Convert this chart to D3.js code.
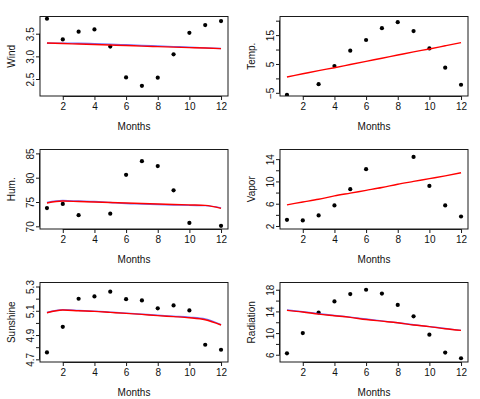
<!DOCTYPE html>
<html>
<head>
<meta charset="utf-8">
<script src="https://cdn.jsdelivr.net/npm/d3@7"></script>
<style>
 body { margin: 0; background: #fff; }
 text { font-family: "Liberation Sans", Arial, sans-serif; }
</style>
</head>
<body>
<div id="chart"></div>
<script>
// data
const months = [1, 2, 3, 4, 5, 6, 7, 8, 9, 10, 11, 12];
const monthTicks = [2, 4, 6, 8, 10, 12];

const wind = [3.83, 3.375, 3.544, 3.594, 3.215, 2.535, 2.35, 2.53, 3.046, 3.52, 3.69, 3.78];
const windRed = [3.294, 3.283, 3.272, 3.261, 3.25, 3.239, 3.227, 3.216, 3.205, 3.194, 3.183, 3.171];
const windBlue = [3.29, 3.292, 3.29, 3.282, 3.27, 3.255, 3.24, 3.228, 3.215, 3.202, 3.188, 3.172];
const windDomain = [2.125, 3.88];
const windTicks = [2.5, 3.0, 3.5];
const windLabels = ["2.5", "3.0", "3.5"];

const temp = [-5.7, null, -2.0, 4.3, 9.6, 13.3, 17.4, 19.5, 16.4, 10.4, 3.7, -2.2];
const tempRed = [0.5, 1.6, 2.7, 3.7, 4.8, 5.9, 7.0, 8.1, 9.2, 10.2, 11.3, 12.4];
const tempDomain = [-6.1, 21.45];
const tempTicks = [-5, 0, 5, 10, 15, 20];
const tempLabels = ["\u22125", "", "5", "", "15", ""];

const hum = [73.75, 74.6, 72.3, null, 72.6, 80.6, 83.4, 82.4, 77.4, 70.7, null, 70.1];
const humRed = [74.8, 75.2, 75.1, 75.0, 74.9, 74.8, 74.7, 74.6, 74.5, 74.4, 74.3, 73.7];
const humBlue = [74.9, 75.3, 75.2, 75.1, 74.9, 74.7, 74.6, 74.5, 74.4, 74.3, 74.25, 73.8];
const humDomain = [69.45, 85.8];
const humTicks = [70, 75, 80, 85];
const humLabels = ["70", "75", "80", "85"];

const vapor = [3.1, 3.0, 3.9, 5.7, 8.6, 12.2, null, null, 14.4, 9.2, 5.7, 3.7];
const vaporRed = [5.8, 6.3, 6.8, 7.4, 7.9, 8.4, 8.9, 9.5, 10.0, 10.5, 11.0, 11.55];
const vaporDomain = [1.46, 15.73];
const vaporTicks = [2, 4, 6, 8, 10, 12, 14];
const vaporLabels = ["2", "", "6", "", "10", "", "14"];

const sunshine = [4.757, 4.968, 5.199, 5.218, 5.257, 5.196, 5.185, 5.12, 5.144, 5.103, 4.82, 4.779];
const sunRed = [5.084, 5.106, 5.1, 5.095, 5.087, 5.079, 5.07, 5.06, 5.052, 5.043, 5.026, 4.983];
const sunBlue = [5.086, 5.108, 5.103, 5.097, 5.089, 5.081, 5.072, 5.063, 5.055, 5.047, 5.033, 4.985];
const sunDomain = [4.678, 5.333];
const sunTicks = [4.7, 4.8, 4.9, 5.0, 5.1, 5.2, 5.3];
const sunLabels = ["4.7", "", "4.9", "", "5.1", "", "5.3"];

const radiation = [6.26, 10.0, 13.8, 15.85, 17.2, 18.0, 17.3, 15.2, 13.1, 9.7, 6.4, 5.35];
const radRed = [14.2, 13.9, 13.5, 13.2, 12.9, 12.5, 12.2, 11.9, 11.5, 11.2, 10.8, 10.5];
const radBlue = [14.25, 13.95, 13.6, 13.25, 12.95, 12.6, 12.25, 11.9, 11.55, 11.2, 10.85, 10.5];
const radDomain = [4.66, 19.34];
const radTicks = [6, 8, 10, 12, 14, 16, 18];
const radLabels = ["6", "", "10", "", "14", "", "18"];

const panels = [
  {name: "Wind", y: wind, red: windRed, blue: windBlue, dom: windDomain, ticks: windTicks, labels: windLabels},
  {name: "Temp.", y: temp, red: tempRed, blue: null, dom: tempDomain, ticks: tempTicks, labels: tempLabels},
  {name: "Hum.", y: hum, red: humRed, blue: humBlue, dom: humDomain, ticks: humTicks, labels: humLabels},
  {name: "Vapor", y: vapor, red: vaporRed, blue: null, dom: vaporDomain, ticks: vaporTicks, labels: vaporLabels},
  {name: "Sunshine", y: sunshine, red: sunRed, blue: sunBlue, dom: sunDomain, ticks: sunTicks, labels: sunLabels},
  {name: "Radiation", y: radiation, red: radRed, blue: radBlue, dom: radDomain, ticks: radTicks, labels: radLabels}
];

const width = 480, height = 399;
const colW = 240, rowH = 133;
const boxL = 40, boxR = 228, boxT = 16.5, boxB = 96;
const ink = "#1a1a1a";

const svg = d3.select("#chart").append("svg")
  .attr("width", width).attr("height", height);

const x = d3.scaleLinear().domain([0.56, 12.44]).range([boxL, boxR]);

panels.forEach(function(p, i) {
  const g = svg.append("g")
    .attr("transform", `translate(${(i % 2) * colW},${Math.floor(i / 2) * rowH})`);
  const y = d3.scaleLinear().domain(p.dom).range([boxB, boxT]);

  const clipId = "clip" + i;
  g.append("clipPath").attr("id", clipId)
    .append("rect").attr("x", boxL).attr("y", boxT)
    .attr("width", boxR - boxL).attr("height", boxB - boxT);

  // points
  g.append("g").attr("clip-path", `url(#${clipId})`)
    .selectAll("circle")
    .data(months.map((m, k) => [m, p.y[k]]).filter(d => d[1] != null))
    .enter().append("circle")
    .attr("cx", d => x(d[0]))
    .attr("cy", d => y(d[1]))
    .attr("r", 2.1)
    .attr("fill", "#000");

  const line = d3.line()
    .x((d, k) => x(months[k]))
    .y(d => y(d))
    .curve(d3.curveMonotoneX);

  if (p.blue) {
    g.append("path").attr("d", line(p.blue))
      .attr("fill", "none").attr("stroke", "#3b3bff").attr("stroke-width", 1.4)
      .attr("stroke-opacity", 0.7);
  }
  g.append("path").attr("d", line(p.red))
    .attr("fill", "none").attr("stroke", "#ff0000").attr("stroke-width", 1.4);

  // box
  g.append("rect")
    .attr("x", boxL).attr("y", boxT)
    .attr("width", boxR - boxL).attr("height", boxB - boxT)
    .attr("fill", "none").attr("stroke", ink).attr("stroke-width", 1);

  // x axis
  const xa = g.append("g").attr("transform", `translate(0,${boxB})`)
    .call(d3.axisBottom(x).tickValues(monthTicks).tickSize(4).tickPadding(3))
    .call(a => a.select(".domain").attr("d", `M${x(2)},0.5H${x(12)}`).attr("stroke", ink));
  xa.selectAll(".tick line").attr("stroke", ink);
  xa.selectAll(".tick text").attr("font-size", 10).attr("font-family", null).attr("fill", "#111");

  // y axis
  const ya = g.append("g").attr("transform", `translate(${boxL},0)`)
    .call(d3.axisLeft(y).tickValues(p.ticks).tickSize(4)
      .tickFormat((d, k) => p.labels[k]))
    .call(a => a.select(".domain")
      .attr("d", `M-0.5,${y(p.ticks[0])}V${y(p.ticks[p.ticks.length - 1])}`)
      .attr("stroke", ink));
  ya.selectAll(".tick line").attr("stroke", ink);
  ya.selectAll(".tick text")
    .attr("x", null).attr("dy", null)
    .attr("transform", "translate(-6,0) rotate(-90)")
    .attr("text-anchor", "middle")
    .attr("font-size", 10).attr("font-family", null).attr("fill", "#111");

  g.append("text")
    .attr("x", (boxL + boxR) / 2).attr("y", 130)
    .attr("text-anchor", "middle").attr("font-size", 10).attr("fill", "#111")
    .text("Months");

  g.append("text")
    .attr("transform", `translate(14.5,${(boxT + boxB) / 2}) rotate(-90)`)
    .attr("text-anchor", "middle").attr("font-size", 10).attr("fill", "#111")
    .text(p.name);
});
</script>
</body>
</html>
